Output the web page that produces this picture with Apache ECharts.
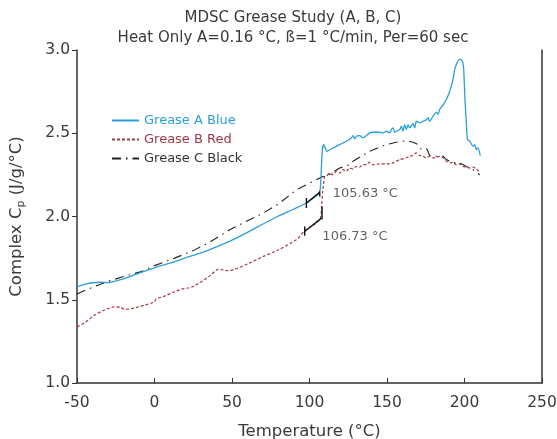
<!DOCTYPE html>
<html>
<head>
<meta charset="utf-8">
<script src="https://cdn.jsdelivr.net/npm/echarts@6/dist/echarts.min.js"></script>
<style>html,body{margin:0;padding:0;background:#fff}#c{width:557px;height:439px}</style>
</head>
<body>
<div id="c"></div>
<script>
var titleLines = ['MDSC Grease Study (A, B, C)', 'Heat Only A=0.16 °C, ß=1 °C/min, Per=60 sec'];
var seriesNames = ['Grease A Blue', 'Grease B Red', 'Grease C Black'];
var xTicks = [-50, 0, 50, 100, 150, 200, 250];
var yTicks = [1.0, 1.5, 2.0, 2.5, 3.0];

var tempA = [-50,-45,-40,-35,-30,-20,-10,0,10,20,30,40,50,60,70,80,90,98,104,106,107,107.7,108.3,109.2,111.3,115.2,119.5,123.8,127.0,128.1,129.2,130.2,132.4,134.5,136.7,138.8,141.0,145.3,147.4,149.6,151.7,152.8,153.9,155.0,156.0,158.2,159.3,160.3,161.4,162.5,163.6,164.6,166.8,167.9,168.9,171.1,173.2,175.4,176.5,177.5,179.7,181.9,182.9,184.0,186.2,188.3,190.0,191.5,192.7,193.7,194.8,195.8,196.6,197.3,198.0,198.6,199.1,199.5,200.3,201.2,201.9,203.4,205.5,206.6,207.6,208.7,210.2];
var cpA   = [1.578,1.592,1.602,1.605,1.603,1.625,1.660,1.692,1.720,1.752,1.782,1.818,1.858,1.905,1.955,2.003,2.045,2.081,2.122,2.140,2.170,2.300,2.400,2.432,2.392,2.412,2.432,2.452,2.472,2.486,2.466,2.482,2.486,2.472,2.486,2.502,2.506,2.506,2.502,2.512,2.502,2.522,2.532,2.506,2.512,2.522,2.542,2.512,2.552,2.522,2.552,2.532,2.558,2.532,2.572,2.562,2.572,2.582,2.593,2.572,2.603,2.627,2.613,2.643,2.670,2.703,2.740,2.783,2.830,2.884,2.915,2.934,2.942,2.944,2.942,2.934,2.915,2.884,2.703,2.563,2.462,2.452,2.422,2.432,2.402,2.412,2.366];

var tempB = [-50,-45,-38.5,-32,-25.7,-22,-19,-14,-8.5,-2,0,1,6,13,18,23.8,30.3,36,41,44,47.4,51.7,60,70,80,91.5,96.9,100,104,107,107.7,108.5,109.8,110.9,113.0,115.2,117.3,119.5,121.6,123.8,125.9,128.1,130.2,132.4,134.5,136.7,138.8,141.0,145.3,149.6,153.9,158.2,162.5,164.6,166.8,168.9,171.1,173.2,175.4,177.5,179.7,181.9,184.0,186.2,188.3,190.4,192.6,194.7,196.9,199.0,201.2,203.4,205.5,207.6,208.7,209.8];
var cpB   = [1.337,1.362,1.408,1.440,1.458,1.455,1.442,1.448,1.462,1.480,1.488,1.505,1.520,1.548,1.565,1.575,1.609,1.645,1.683,1.680,1.675,1.683,1.715,1.759,1.800,1.860,1.915,1.935,1.958,1.985,2.040,2.150,2.240,2.241,2.261,2.251,2.271,2.261,2.281,2.271,2.291,2.285,2.301,2.297,2.311,2.311,2.326,2.311,2.316,2.316,2.322,2.342,2.352,2.362,2.366,2.382,2.366,2.362,2.352,2.362,2.352,2.356,2.362,2.352,2.332,2.322,2.326,2.311,2.316,2.301,2.297,2.291,2.297,2.285,2.277,2.270];

var tempC = [-50,-40,-30,-20,-8.5,0,13,25,34.5,48.5,60,70,80,91.5,100,108.7,110.9,119.5,126,128.1,138.8,149.6,156,162.5,166.8,170,172.2,174.3,175.8,177.5,181.9,186.2,188.3,192.6,196.9,201.2,205.5,209.8];
var cpC   = [1.535,1.575,1.610,1.640,1.669,1.705,1.750,1.795,1.840,1.920,1.975,2.020,2.075,2.160,2.200,2.240,2.241,2.291,2.312,2.332,2.392,2.432,2.446,2.456,2.446,2.432,2.402,2.402,2.406,2.366,2.362,2.362,2.342,2.322,2.322,2.301,2.281,2.251];

// onset tangents and end markers
var tanA = [[98.0, 2.081], [106.6, 2.145]];
var tanATicks = [[[98.0, 2.051], [98.0, 2.111]], [[106.6, 2.120], [106.6, 2.151]]];
var tanB = [[96.9, 1.910], [107.7, 1.990]];
var tanBTicks = [[[96.9, 1.884], [96.9, 1.940]], [[108.1, 1.984], [108.1, 2.060]]];
var onsetLabels = [{name: '105.63 °C', pos: [115, 2.137]}, {name: '106.73 °C', pos: [108.3, 1.880]}];

function zip(t, v) { return t.map(function (x, i) { return [x, v[i]]; }); }

var FONT = 'DejaVu Sans';
var TXT = '#3a3a3a';
var cBlue = '#2a9fd8', cRed = '#a23a46', cBlack = '#222222';

var series = [
  {name: seriesNames[0], type: 'line', data: zip(tempA, cpA), symbol: 'none', showSymbol: false, smooth: 0.2,
   lineStyle: {color: cBlue, width: 1.3}, itemStyle: {color: cBlue}, z: 3},
  {name: seriesNames[1], type: 'line', data: zip(tempB, cpB), symbol: 'none', showSymbol: false, smooth: 0.2,
   lineStyle: {color: cRed, width: 1.2, type: [3, 2]}, itemStyle: {color: cRed}, z: 2},
  {name: seriesNames[2], type: 'line', data: zip(tempC, cpC), symbol: 'none', showSymbol: false,
   lineStyle: {color: cBlack, width: 1.1, type: [9, 5, 1.5, 5]}, itemStyle: {color: cBlack}, z: 2}
];
function seg(d) {
  return {type: 'line', data: d, symbol: 'none', silent: true, lineStyle: {color: '#111', width: 1.4}, z: 5};
}
series.push(seg(tanA), seg(tanB));
tanATicks.concat(tanBTicks).forEach(function (d) { series.push(seg(d)); });
series.push({
  type: 'scatter', symbolSize: 0, silent: true, z: 6,
  data: onsetLabels.map(function (o) { return {value: o.pos, name: o.name}; }),
  label: {show: true, position: 'right', distance: 0, formatter: '{b}', color: TXT, fontFamily: FONT, fontSize: 13}
});

var chart = echarts.init(document.getElementById('c'));
chart.setOption({
  animation: false,
  backgroundColor: '#fff',
  title: {
    text: titleLines.join('\n'), left: 288, top: 3, textAlign: 'center',
    textStyle: {fontFamily: FONT, fontSize: 15, fontWeight: 'normal', color: TXT, lineHeight: 20}
  },
  legend: {
    data: seriesNames.map(function (n, i) { return {name: n, textStyle: {color: [cBlue, cRed, '#333'][i]}}; }),
    orient: 'vertical', left: 106, top: 109, itemWidth: 27, itemHeight: 14, itemGap: 6,
    itemStyle: {opacity: 0, borderWidth: 0},
    textStyle: {fontFamily: FONT, fontSize: 13}
  },
  grid: {left: 77, right: 15, top: 50, bottom: 56, containLabel: false, outerBoundsMode: 'none'},
  xAxis: {
    type: 'value', min: -50, max: 250, interval: 50,
    name: 'Temperature (°C)', nameLocation: 'middle', nameGap: 40,
    nameTextStyle: {fontFamily: FONT, fontSize: 16.5, color: TXT},
    axisLine: {show: true, onZero: false, lineStyle: {color: '#333', width: 1.5}},
    axisTick: {show: true, inside: true, length: 5, lineStyle: {color: '#333'}},
    axisLabel: {fontFamily: FONT, fontSize: 15.5, color: TXT, margin: 12,
      formatter: function (v) { return xTicks.indexOf(v) >= 0 ? String(v) : ''; }},
    splitLine: {show: false}
  },
  yAxis: [{
    type: 'value', min: 1, max: 3, interval: 0.5,
    name: 'Complex C{sub|p} (J/g/°C)', nameLocation: 'middle', nameGap: 50,
    nameTextStyle: {fontFamily: FONT, fontSize: 16.5, color: TXT,
      rich: {sub: {fontFamily: FONT, fontSize: 11, color: TXT, verticalAlign: 'bottom', padding: [9, 0, 0, 0]}}},
    axisLine: {show: true, onZero: false, lineStyle: {color: '#333', width: 1.5}},
    axisTick: {show: true, inside: false, length: 5, lineStyle: {color: '#333'}},
    axisLabel: {fontFamily: FONT, fontSize: 15.5, color: TXT, margin: 7,
      formatter: function (v) { return yTicks.indexOf(v) >= 0 ? v.toFixed(1) : ''; }},
    splitLine: {show: false}
  }, {
    type: 'value', min: 1, max: 3, interval: 0.5, position: 'right',
    axisLine: {show: true, onZero: false, lineStyle: {color: '#333', width: 1.5}},
    axisTick: {show: false}, axisLabel: {show: false}, splitLine: {show: false}
  }],
  series: series
});
</script>
</body>
</html>
